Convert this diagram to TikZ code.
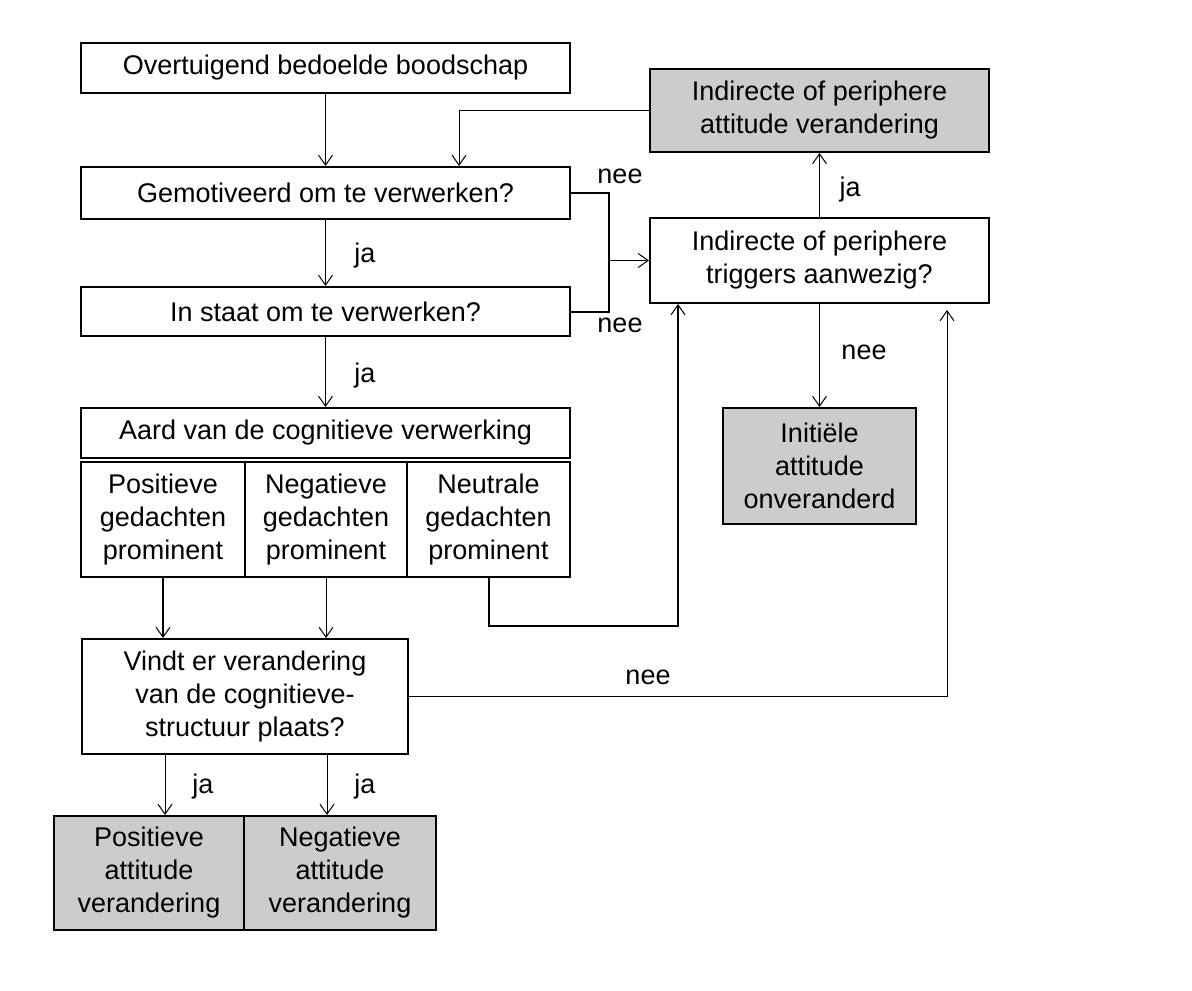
\documentclass[tikz,border=0pt]{standalone}
\usepackage{fontspec}
\setmainfont{Liberation Sans}
\usetikzlibrary{arrows.meta}
\newcommand\mf{\fontsize{13.5}{16.5}\selectfont}
\begin{document}
\begin{tikzpicture}[x=0.5pt,y=-0.5pt,
  bx/.style={draw, line width=1pt, align=center, inner sep=0pt, font=\mf},
  gbx/.style={bx, fill=black!20},
  arr/.style={line width=0.5pt, -{Straight Barb[length=5pt,width=7pt,line width=0.5pt]}},
  thk/.style={line width=1pt},
  lbl/.style={font=\mf, inner sep=0pt}]
\useasboundingbox (0,0) rectangle (1192,990);
% boxes
\node[bx, minimum width=244.5pt, minimum height=25pt] (b1) at (325.5,68) {Overtuigend bedoelde boodschap};
\node[bx, minimum width=244.5pt, minimum height=26pt] (b2) at (325.5,193) {Gemotiveerd om te verwerken?};
\node[bx, minimum width=244.5pt, minimum height=24.5pt] (b3) at (325.5,311.5) {In staat om te verwerken?};
\node[bx, minimum width=244.5pt, minimum height=25pt] (b4) at (325.5,433) {Aard van de cognitieve verwerking};
\node[bx, minimum width=82pt, minimum height=57.5pt] (pos) at (163,519.5) {Positieve\\gedachten\\prominent};
\node[bx, minimum width=81pt, minimum height=57.5pt] (neg) at (326,519.5) {Negatieve\\gedachten\\prominent};
\node[bx, minimum width=81.5pt, minimum height=57.5pt] (neu) at (488.5,519.5) {Neutrale\\gedachten\\prominent};
\node[bx, minimum width=163pt, minimum height=57.5pt] (vindt) at (245,696.5) {Vindt er verandering\\van de cognitieve-\\structuur plaats?};
\node[gbx, minimum width=95pt, minimum height=57pt] (pa) at (149,873) {Positieve\\attitude\\verandering};
\node[gbx, minimum width=96pt, minimum height=57pt] (na) at (340,873) {Negatieve\\attitude\\verandering};
\node[gbx, minimum width=169.5pt, minimum height=41.5pt] (ipa) at (819.5,110.5) {Indirecte of periphere\\attitude verandering};
\node[bx, minimum width=169.5pt, minimum height=42.5pt] (trig) at (819.5,260.5) {Indirecte of periphere\\triggers aanwezig?};
\node[gbx, minimum width=96.5pt, minimum height=58pt] (init) at (819.5,466) {Initiële\\attitude\\onveranderd};
% helper coordinates
\coordinate (xa) at (459,0);
\coordinate (j1) at (609,260.5);
\coordinate (c2) at (678,626);
\coordinate (c3) at (947,310);
\coordinate (xp) at (165,0);
\coordinate (xn) at (327,0);
% connectors
\draw[arr] (b1.south) -- (b2.north);
\draw[arr] (ipa.west) -| (b2.north -| xa);
\draw[arr] (b2.south) -- (b3.north);
\draw[arr] (b3.south) -- (b4.north);
\draw[thk] (b2.east) -| (j1) |- (b3.east);
\draw[arr] (j1) -- (trig.west);
\draw[arr] (trig.north) -- (ipa.south);
\draw[arr] (trig.south) -- (init.north);
\draw[arr, thk] (pos.south) -- (pos.south |- vindt.north);
\draw[arr] (neg.south) -- (neg.south |- vindt.north);
\draw[arr, thk] (neu.south) |- (c2) -- (c2 |- trig.south);
\draw[arr] (vindt.east) -| (c3);
\draw[arr] (vindt.south -| xp) -- (pa.north -| xp);
\draw[arr] (vindt.south -| xn) -- (na.north -| xn);
% labels
\node[lbl] (l1) at (365,256) {ja};
\node[lbl] (l2) at (365,376) {ja};
\node[lbl] (l3) at (620,176) {nee};
\node[lbl] (l4) at (620,325) {nee};
\node[lbl] (l5) at (850,190) {ja};
\node[lbl] (l6) at (864,352) {nee};
\node[lbl] (l7) at (648,677) {nee};
\node[lbl] (l8) at (203,787) {ja};
\node[lbl] (l9) at (365,787) {ja};
\end{tikzpicture}
\end{document}
